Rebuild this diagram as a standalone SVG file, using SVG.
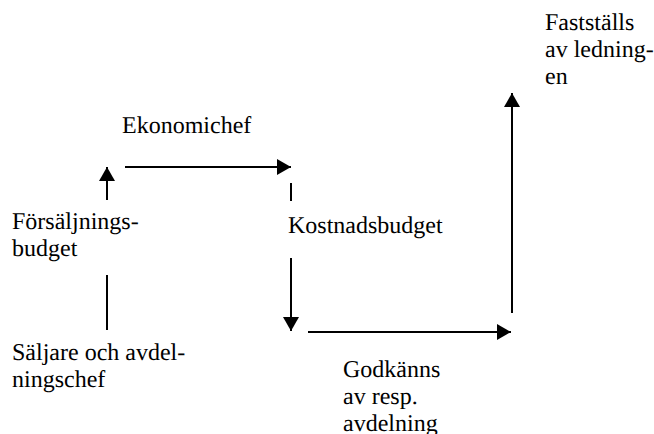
<svg xmlns="http://www.w3.org/2000/svg" width="654" height="434" viewBox="0 0 654 434">
  <style>
    .ln { stroke: #000; stroke-width: 2; fill: none; }
  </style>
  <defs>
    <marker id="head" viewBox="0 0 14 16" refX="14" refY="8" markerWidth="14" markerHeight="16" markerUnits="userSpaceOnUse" orient="auto">
      <path d="M0,0 L14,8 L0,16 Z" fill="#000"/>
    </marker>
  </defs>
  <rect width="654" height="434" fill="#fff"/>

  <!-- labels: serif 24px, unhinted outlines -->
  <g id="saljare">
    <text x="12" y="360" font-family="Liberation Serif" font-size="24" style="text-rendering:geometricPrecision">Säljare och avdel-</text>
    <text x="12" y="387" font-family="Liberation Serif" font-size="24" style="text-rendering:geometricPrecision">ningschef</text>
  </g>
  <g id="forsaljningsbudget">
    <text x="12" y="229" font-family="Liberation Serif" font-size="24" style="text-rendering:geometricPrecision">Försäljnings-</text>
    <text x="12" y="256" font-family="Liberation Serif" font-size="24" style="text-rendering:geometricPrecision">budget</text>
  </g>
  <g id="ekonomichef">
    <text x="122" y="133" font-family="Liberation Serif" font-size="24" style="text-rendering:geometricPrecision">Ekonomichef</text>
  </g>
  <g id="kostnadsbudget">
    <text x="288" y="233" font-family="Liberation Serif" font-size="24" style="text-rendering:geometricPrecision">Kostnadsbudget</text>
  </g>
  <g id="godkanns">
    <text x="343" y="377" font-family="Liberation Serif" font-size="24" style="text-rendering:geometricPrecision">Godkänns</text>
    <text x="343" y="404" font-family="Liberation Serif" font-size="24" style="text-rendering:geometricPrecision">av resp.</text>
    <text x="343" y="431" font-family="Liberation Serif" font-size="24" style="text-rendering:geometricPrecision">avdelning</text>
  </g>
  <g id="faststalls">
    <text x="545" y="30" font-family="Liberation Serif" font-size="24" style="text-rendering:geometricPrecision">Fastställs</text>
    <text x="545" y="57" font-family="Liberation Serif" font-size="24" style="text-rendering:geometricPrecision">av ledning-</text>
    <text x="545" y="84" font-family="Liberation Serif" font-size="24" style="text-rendering:geometricPrecision">en</text>
  </g>

  <g id="connectors">
    <line class="ln" x1="107" y1="330" x2="107" y2="275"/>
    <line class="ln" x1="107" y1="200" x2="107" y2="167" marker-end="url(#head)"/>
    <line class="ln" x1="125" y1="167" x2="291" y2="167" marker-end="url(#head)"/>
    <line class="ln" x1="291" y1="183" x2="291" y2="201"/>
    <line class="ln" x1="291" y1="258" x2="291" y2="331" marker-end="url(#head)"/>
    <line class="ln" x1="308" y1="332" x2="511" y2="332" marker-end="url(#head)"/>
    <line class="ln" x1="512" y1="313" x2="512" y2="93" marker-end="url(#head)"/>
  </g>
</svg>
